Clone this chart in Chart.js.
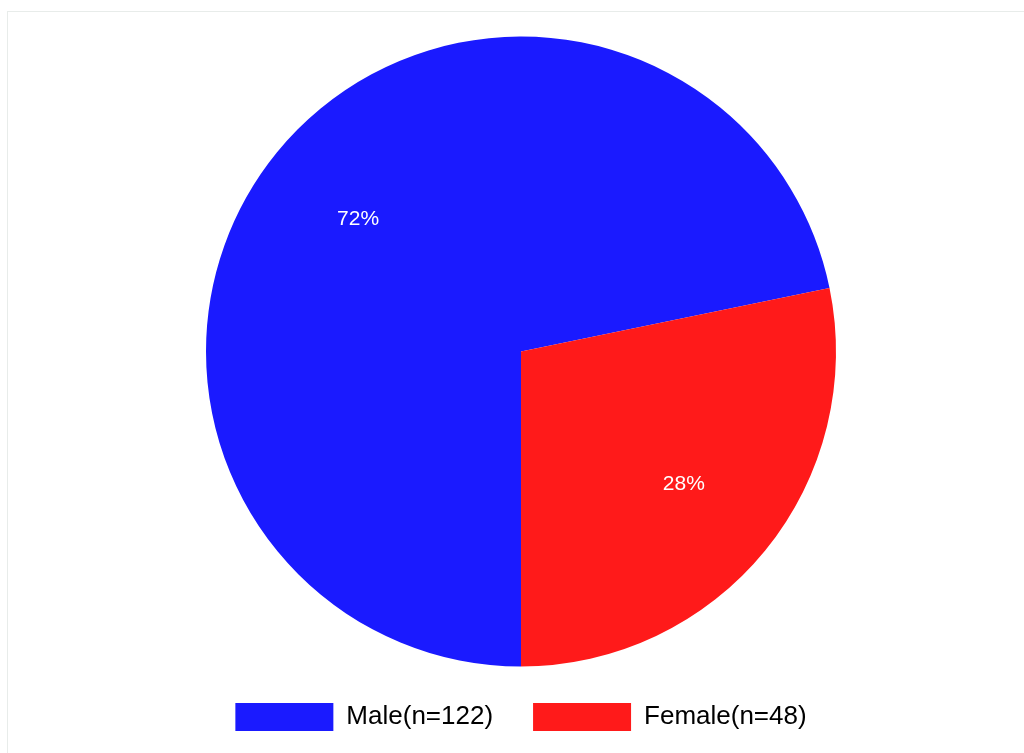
<!DOCTYPE html>
<html>
<head>
<meta charset="utf-8">
<title>Gender distribution</title>
<script src="https://cdn.jsdelivr.net/npm/chart.js@4"></script>
<style>
    html, body {
        margin: 0;
        padding: 0;
        background: #ffffff;
        overflow: hidden;
    }
    .frame {
        position: absolute;
        left: 7px;
        top: 11px;
        width: 1040px;
        height: 760px;
        border: 1px solid #e8ecea;
    }
    #chartContainer {
        position: absolute;
        left: 0;
        top: 0;
        width: 1024px;
        height: 753px;
    }
</style>
</head>
<body>
<div class="frame"></div>
<div id="chartContainer">
    <canvas id="genderChart"></canvas>
</div>
<script>
const categories = ['Male(n=122)', 'Female(n=48)'];
const counts = [122, 48];
const sliceColors = ['rgb(26, 26, 255)', 'rgb(255, 26, 26)'];

Chart.defaults.font.family = '"Liberation Sans", Arial, sans-serif';

// writes the share of each slice in white inside the slice
const percentLabels = {
    id: 'percentLabels',
    afterDatasetsDraw(chart) {
        const ctx = chart.ctx;
        const meta = chart.getDatasetMeta(0);
        const total = counts.reduce((a, b) => a + b, 0);
        ctx.save();
        ctx.fillStyle = '#ffffff';
        ctx.font = '21px "Liberation Sans", Arial, sans-serif';
        ctx.textAlign = 'center';
        ctx.textBaseline = 'middle';
        meta.data.forEach((arc, i) => {
            const p = arc.getProps(['x', 'y', 'startAngle', 'endAngle', 'outerRadius']);
            const mid = (p.startAngle + p.endAngle) / 2;
            const r = p.outerRadius * 0.667;
            const pct = Math.round(counts[i] / total * 100) + '%';
            ctx.fillText(pct, p.x + Math.cos(mid) * r, p.y + Math.sin(mid) * r);
        });
        ctx.restore();
    }
};

const ctx = document.getElementById('genderChart').getContext('2d');
const chart = new Chart(ctx, {
    type: 'pie',
    data: {
        labels: categories,
        datasets: [{
            data: counts,
            backgroundColor: sliceColors,
            borderWidth: 0,
            radius: 315
        }]
    },
    options: {
        responsive: true,
        maintainAspectRatio: false,
        animation: false,
        rotation: 180,
        layout: {
            padding: { top: 40, left: 18, right: 0, bottom: 12 }
        },
        plugins: {
            tooltip: { enabled: false },
            legend: {
                position: 'bottom',
                labels: {
                    boxWidth: 98,
                    boxHeight: 28,
                    padding: 40,
                    color: '#000000',
                    font: { size: 26 }
                }
            }
        }
    },
    plugins: [percentLabels]
});
</script>
</body>
</html>
